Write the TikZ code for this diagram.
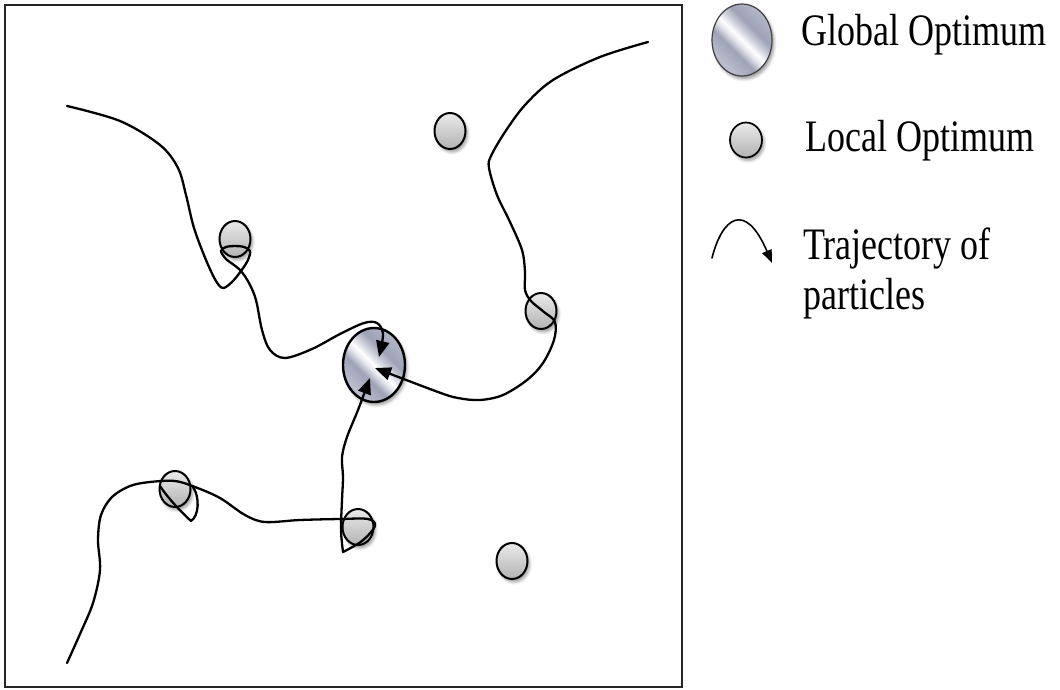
\documentclass[tikz,border=0pt]{standalone}
\usepackage{fontspec}
\setmainfont{Liberation Serif}[FakeStretch=0.8]
\usetikzlibrary{shapes.geometric,arrows.meta,shadows.blur}

% brushed-metal colours for the global optimum
\definecolor{metA}{HTML}{CFD2DC}
\definecolor{metB}{HTML}{B8BCCB}
\definecolor{metC}{HTML}{9DA2B6}
\definecolor{metD}{HTML}{E2E4EA}
\definecolor{metE}{HTML}{D2D5DE}
\definecolor{metF}{HTML}{A6ABBE}
\pgfdeclarehorizontalshading{metal}{100bp}{%
  color(0bp)=(metA); color(28bp)=(metB); color(40bp)=(metC);
  color(46bp)=(metD); color(50bp)=(white); color(55bp)=(metE);
  color(62bp)=(metC); color(78bp)=(metB); color(100bp)=(metF)}

\tikzset{
  softshadow/.style={blur shadow={shadow xshift=2pt, shadow yshift=-3pt,
      shadow blur radius=3pt, shadow opacity=40}},
  localopt/.style={ellipse, draw=black, line width=2pt, inner sep=0pt,
      minimum width=31pt, minimum height=36pt,
      top color=black!8, bottom color=black!30, softshadow},
  globalopt/.style={ellipse, draw=black, line width=2.4pt, inner sep=0pt,
      minimum width=62pt, minimum height=74pt,
      shading=metal, shading angle=45, softshadow},
  traj/.style={line width=2.3pt, line cap=round, line join=round},
  tip/.style={-{Triangle[length=16pt,width=13pt]}},
  legendtext/.style={font=\fontsize{45}{50}\selectfont, inner sep=0pt}
}

\begin{document}
\begin{tikzpicture}[x=1pt,y=-1pt]
\useasboundingbox (0,0) rectangle (1060,690);

% search space frame
\draw[line width=2.6pt, draw=black!85] (5,5) rectangle (682,687);

% optima
\node[globalopt] (g) at (374,365) {};
\node[localopt] (l1) at (450,131) {};
\node[localopt] (l2) at (235,239) {};
\node[localopt] (l3) at (541,311) {};
\node[localopt] (l4) at (175,489) {};
\node[localopt] (l5) at (358,527) {};
\node[localopt] (l6) at (512,561) {};

% particle start points
\coordinate (pa) at (67,106);
\coordinate (pb) at (648,42);
\coordinate (pc) at (67,663);

% particle A: loops round l2, enters the global optimum from above
\draw[traj, tip] plot[smooth, tension=0.55] coordinates {
  (pa) (120,121) (160,145) (178,168) (186,195) (194,228) (206,260)
  (216,281) (223,288) (232,282) (241,271) (248,260) (250,251)
  (244,247) (235,246) (226,247) (221,251) (226,259) (234,265)
  (241,271) (249,283) (256,300) (262,330) (270,350) (285,358)
  (312,349) (340,334) (364,323) (377,323) (383,334)
  ([shift={(5,-8)}]g.center)};

% particle B: crosses l3, enters the global optimum from the right
\draw[traj, tip] plot[smooth, tension=0.55] coordinates {
  (pb) (600,57) (553,80) (525,105) (505,132) (491,156) (489,168)
  (497,195) (510,222) (522,250) (525,272) (525,290) (531,301)
  (544,312) (555,322) (554,340) (543,363) (527,380) (503,395)
  (480,400) (458,398) (438,392) ([shift={(1,3)}]g.center)};

% particle C: passes l4 and l5, enters the global optimum from below
\draw[traj, tip] plot[smooth, tension=0.55] coordinates {
  (pc) (80,634) (93,603) (100,570) (98,540) (101,515) (112,497)
  (130,486) (150,482) (175,481) (195,487) (220,498) (245,515)
  (265,522) (300,520) (340,519) (368,519) (375,526) (362,541)
  (343,552)}
  -- plot[smooth, tension=0.55] coordinates {
  (343,552) (341,530) (342,500) (343,477) (342,457) (347,437)
  (358,410) ([shift={(-4,13)}]g.center)};
% small loop of particle C at l4
\draw[traj] (193,487) .. controls (200,497) and (199,516) .. (191,521)
  .. controls (182,513) and (167,497) .. (160,486);

% legend
\node[globalopt, line width=1.2pt, draw=black!75, minimum width=60pt,
  minimum height=72pt] (kg) at (742,40) {};
\node[localopt, line width=1.7pt, minimum width=32pt, minimum height=35pt]
  (kl) at (746,140) {};
\coordinate (kt0) at (712,258);
\coordinate (kt1) at (772,263);
\draw[line width=1.6pt, line cap=round, -{Triangle[length=13pt,width=10pt]}]
  (kt0) .. controls (722,218) and (745,200) .. (kt1);

\node[legendtext, anchor=base west] (tg) at (801,46) {Global Optimum};
\node[legendtext, anchor=base west] (tl) at (805,151) {Local Optimum};
\node[legendtext, anchor=north west, align=left] (tt) at (803,228)
  {Trajectory of\\particles};
\end{tikzpicture}
\end{document}
